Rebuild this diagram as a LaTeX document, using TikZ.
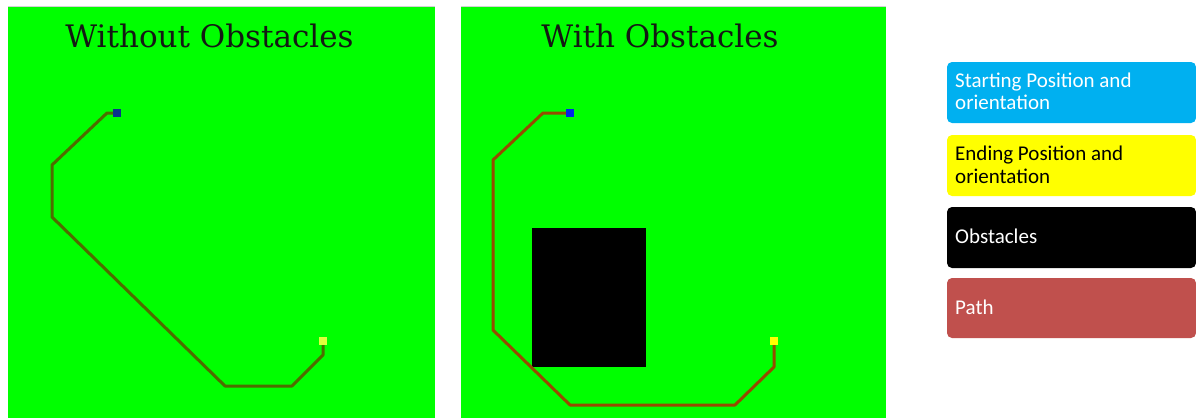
\documentclass[tikz,border=0pt]{standalone}
\usepackage{fontspec}
\setmainfont{DejaVu Serif}
\newfontfamily\legfont{Carlito}
\definecolor{fieldgreen}{RGB}{0,255,0}
\definecolor{pathA}{RGB}{78,108,0}
\definecolor{pathB}{RGB}{150,75,0}
\definecolor{startA}{RGB}{10,50,140}
\definecolor{startB}{RGB}{0,40,230}
\definecolor{endA}{RGB}{225,255,60}
\definecolor{endB}{RGB}{255,255,0}
\definecolor{legblue}{RGB}{0,176,240}
\definecolor{legyellow}{RGB}{255,255,0}
\definecolor{legred}{RGB}{192,80,77}
\definecolor{titlecol}{RGB}{20,25,20}
\tikzset{
  panel/.style={fill=fieldgreen},
  panelrim/.style={draw=gray!35, line width=0.8pt},
  ttl/.style={font=\fontsize{31}{34}\selectfont, text=titlecol, anchor=base, inner sep=0pt},
  route/.style={line width=3pt, line join=round},
  marker/.style={minimum size=8pt, inner sep=0pt, draw=none},
  legbox/.style={rounded corners=5pt, draw=none},
  legtxt/.style={font=\legfont\fontsize{21}{22.7}\selectfont, anchor=base west, inner sep=0pt, align=left},
}
\begin{document}
\begin{tikzpicture}[x=1pt,y=-1pt]
\useasboundingbox (0,0) rectangle (1196,418);
\fill[white] (0,0) rectangle (1196,418);
% panels
\path[panel] (8,7) rectangle (435,418);
\path[panel] (461,7) rectangle (886,418);
\draw[panelrim] (8,6.5) -- (435,6.5);
\draw[panelrim] (461,6.5) -- (886,6.5);
\node[ttl] (t1) at (209.5,47) {Without Obstacles};
\node[ttl] (t2) at (660,47) {With Obstacles};
% obstacle
\fill[black] (532,228) rectangle (646,367);
% path 1
\coordinate (a1) at (107,113);
\coordinate (a2) at (52,165);
\coordinate (a3) at (52,217);
\coordinate (a4) at (225,386);
\coordinate (a5) at (292,386);
\coordinate (a6) at (323,355);
\node[marker, fill=startA] (s1) at (117,113) {};
\node[marker, fill=endA] (e1) at (323,341) {};
\draw[route, pathA] (s1.center) -- (a1) -- (a2) -- (a3) -- (a4) -- (a5) -- (a6) -- (e1.south);
\node[marker, fill=startA] at (s1) {};
% path 2
\coordinate (b1) at (543,113);
\coordinate (b2) at (493,160);
\coordinate (b3) at (493,330);
\coordinate (b4) at (570,405);
\coordinate (b5) at (735,405);
\coordinate (b6) at (774,367);
\node[marker, fill=startB] (s2) at (570,113) {};
\node[marker, fill=endB] (e2) at (774,341) {};
\draw[route, pathB] (s2.center) -- (b1) -- (b2) -- (b3) -- (b4) -- (b5) -- (b6) -- (e2.south);
\node[marker, fill=startB] at (s2) {};
% legend
\fill[legbox, legblue] (947,62) rectangle (1196,123);
\fill[legbox, legyellow] (947,135) rectangle (1196,196);
\fill[legbox, black] (947,207) rectangle (1196,268);
\fill[legbox, legred] (947,278) rectangle (1196,338);
\node[legtxt, text=white] (l1) at (955,109.7) {Starting Position and\\orientation};
\node[legtxt, text=black] (l2) at (955,183) {Ending Position and\\orientation};
\node[legtxt, text=white] (l3) at (955,243) {Obstacles};
\node[legtxt, text=white] (l4) at (955,314) {Path};
\end{tikzpicture}
\end{document}
